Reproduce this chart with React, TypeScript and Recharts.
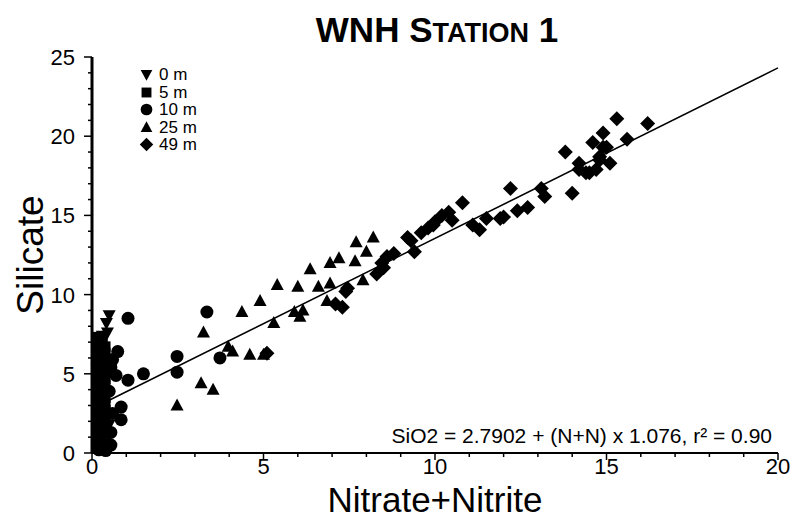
import { ReferenceLine, Scatter, ScatterChart, XAxis, YAxis, Legend } from "recharts";

// values
const depth0 = [
  [0.5, 8.7], [0.42, 8.2], [0.45, 7.6], [0.3, 7.4], [0.2, 7.0], [0.3, 6.0], [0.15, 5.3], [0.3, 4.5],
  [0.2, 3.8], [0.3, 2.9], [0.2, 2.1], [0.3, 1.3], [0.2, 0.6], [0.45, 5.0], [0.5, 1.8],
];
const depth5 = [
  [0.18, 0.3], [0.38, 0.7], [0.18, 1.1], [0.38, 1.5], [0.18, 1.9], [0.38, 2.3], [0.18, 2.7], [0.38, 3.1],
  [0.18, 3.5], [0.38, 3.9], [0.18, 4.3], [0.38, 4.7], [0.18, 5.1], [0.38, 5.5], [0.18, 5.9], [0.38, 6.3],
  [0.18, 6.7], [0.3, 7.1], [0.15, 7.3],
  [0.38, 0.3], [0.18, 0.7], [0.38, 1.1], [0.18, 1.5], [0.38, 1.9], [0.18, 2.3], [0.38, 2.7], [0.18, 3.1],
  [0.38, 3.5], [0.18, 3.9], [0.38, 4.3], [0.18, 4.7], [0.38, 5.1], [0.18, 5.5], [0.38, 5.9], [0.18, 6.3],
  [0.38, 6.7],
];
const depth10 = [
  [1.05, 8.5], [0.75, 6.4], [0.6, 5.9], [1.5, 5.0], [1.05, 4.6], [0.7, 4.9], [0.55, 5.4], [0.5, 3.9],
  [0.85, 2.9], [0.85, 2.1], [0.6, 2.5], [0.55, 1.3], [0.55, 0.5], [0.4, 0.15], [2.48, 6.1], [2.48, 5.1],
  [3.35, 8.9], [3.73, 6.0], [0.2, 0.2],
];
const depth25 = [
  [2.48, 3.0], [3.18, 4.4], [3.53, 4.0], [3.25, 7.6], [4.37, 8.9], [4.9, 9.6], [3.97, 6.7], [4.1, 6.4],
  [4.6, 6.2], [5.0, 6.2], [5.4, 10.6], [6.0, 10.5], [6.36, 11.6], [6.6, 10.5], [6.94, 12.0], [6.94, 10.7],
  [7.2, 12.3], [7.67, 12.1], [7.7, 13.3], [8.2, 13.6], [8.0, 12.7], [7.9, 10.9], [6.06, 8.6], [5.3, 8.2],
  [6.85, 9.6], [5.9, 8.9], [6.15, 9.0],
];
const depth49 = [
  [5.1, 6.3], [7.1, 9.4], [7.3, 9.2], [7.4, 10.2], [7.45, 10.4], [8.3, 11.3], [8.45, 12.0], [8.5, 11.7],
  [8.6, 12.4], [8.8, 12.6], [9.2, 13.6], [9.3, 13.4], [9.4, 12.7], [9.6, 13.9], [9.8, 14.2], [9.95, 14.4],
  [10.0, 14.6], [10.2, 15.0], [10.4, 15.2], [10.5, 14.7], [10.8, 15.8], [11.1, 14.4], [11.3, 14.1],
  [11.5, 14.8], [11.9, 14.8], [12.0, 14.9], [12.2, 16.7], [12.4, 15.3], [12.7, 15.5], [13.1, 16.7],
  [13.2, 16.2], [14.0, 16.4], [13.8, 19.0], [14.2, 18.3], [14.2, 17.9], [14.4, 17.7], [14.5, 17.7],
  [14.6, 19.6], [14.7, 17.9], [14.8, 18.5], [14.8, 18.7], [14.9, 19.3], [14.9, 20.2], [15.0, 19.3],
  [15.1, 18.3], [15.3, 21.1], [15.6, 19.8], [16.2, 20.8],
];

// regression printed on the figure
const intercept = 2.7902;
const slope = 1.076;
const fitFrom = 0.5;
const fitTo = 20;

const xTicks = Array.from({ length: 21 }, (_, i) => i);
const yTicks = Array.from({ length: 26 }, (_, i) => i);

const toPts = (arr: number[][]) => arr.map(([x, y]) => ({ x, y }));

const FONT = "'Liberation Sans', Arial, Helvetica, sans-serif";

const marker = (kind: string, cx: number, cy: number, s = 1) => {
  if (kind === "down")
    return <polygon points={`${cx - 6.5 * s},${cy - 5 * s} ${cx + 6.5 * s},${cy - 5 * s} ${cx},${cy + 7 * s}`} fill="#000" />;
  if (kind === "square")
    return <rect x={cx - 5.5 * s} y={cy - 5.5 * s} width={11 * s} height={11 * s} fill="#000" />;
  if (kind === "circle") return <circle cx={cx} cy={cy} r={6.5 * s} fill="#000" />;
  if (kind === "up")
    return <polygon points={`${cx - 6.5 * s},${cy + 5 * s} ${cx + 6.5 * s},${cy + 5 * s} ${cx},${cy - 7 * s}`} fill="#000" />;
  return <polygon points={`${cx},${cy - 7.5 * s} ${cx + 7.5 * s},${cy} ${cx},${cy + 7.5 * s} ${cx - 7.5 * s},${cy}`} fill="#000" />;
};

const series = [
  { name: "0 m", kind: "down", data: depth0 },
  { name: "5 m", kind: "square", data: depth5 },
  { name: "10 m", kind: "circle", data: depth10 },
  { name: "25 m", kind: "up", data: depth25 },
  { name: "49 m", kind: "diamond", data: depth49 },
];

const BottomTick = (p: any) => {
  const major = p.payload.value % 5 === 0;
  return (
    <g>
      <line x1={p.x} x2={p.x} y1={p.y} y2={p.y + (major ? 7 : 4)} stroke="#000" strokeWidth={1.5} />
      {major && (
        <text x={p.x} y={p.y + 21} textAnchor="middle" fontSize={22} fontFamily={FONT}>
          {p.payload.value}
        </text>
      )}
    </g>
  );
};
const TopTick = (p: any) => {
  const major = p.payload.value % 5 === 0;
  return <line x1={p.x} x2={p.x} y1={p.y} y2={p.y - (major ? 7 : 4)} stroke="#000" strokeWidth={1.5} />;
};
const LeftTick = (p: any) => {
  const major = p.payload.value % 5 === 0;
  return (
    <g>
      <line x1={p.x} x2={p.x - (major ? 8 : 4)} y1={p.y} y2={p.y} stroke="#000" strokeWidth={1.5} />
      {major && (
        <text x={p.x - 17} y={p.y + 8} textAnchor="end" fontSize={22} fontFamily={FONT}>
          {p.payload.value}
        </text>
      )}
    </g>
  );
};
const RightTick = (p: any) => {
  const major = p.payload.value % 5 === 0;
  return <line x1={p.x} x2={p.x + (major ? 8 : 4)} y1={p.y} y2={p.y} stroke="#000" strokeWidth={1.5} />;
};

const LegendBox = () => (
  <div style={{ fontFamily: FONT, fontSize: 17, lineHeight: "17.5px" }}>
    {series.map((s) => (
      <div key={s.name} style={{ display: "flex", alignItems: "center", height: 17.5 }}>
        <svg width={17} height={17} style={{ marginRight: 4 }}>
          {marker(s.kind, 8.5, 8.5, 0.9)}
        </svg>
        <span>{s.name}</span>
      </div>
    ))}
  </div>
);

const axisLine = { stroke: "#000", strokeWidth: 2 };

export default function App() {
  return (
    <div style={{ position: "absolute", left: 0, top: 0, width: 796, height: 521, background: "#fff" }}>
      <ScatterChart width={796} height={521} margin={{ top: 57, right: 18, bottom: 0, left: 0 }}>
        <XAxis
          type="number"
          dataKey="x"
          domain={[0, 20]}
          ticks={xTicks}
          interval={0}
          height={68}
          tickSize={0}
          tickMargin={0}
          tickLine={false}
          tick={<BottomTick />}
          axisLine={axisLine}
          label={{ value: "Nitrate+Nitrite", position: "insideBottom", offset: 9, fontSize: 35, fill: "#000", fontFamily: FONT }}
        />
        <XAxis
          xAxisId="top"
          orientation="top"
          type="number"
          domain={[0, 20]}
          ticks={xTicks}
          interval={0}
          height={0}
          tickSize={0}
          tickMargin={0}
          tickLine={false}
          tick={<TopTick />}
          axisLine={axisLine}
        />
        <YAxis
          type="number"
          dataKey="y"
          domain={[0, 25]}
          ticks={yTicks}
          interval={0}
          width={92}
          tickSize={0}
          tickMargin={0}
          tickLine={false}
          tick={<LeftTick />}
          axisLine={{ stroke: "#000", strokeWidth: 3 }}
          label={{ value: "Silicate", angle: -90, position: "insideLeft", offset: 30, fontSize: 37, fill: "#000", fontFamily: FONT, style: { textAnchor: "middle" } }}
        />
        <YAxis
          yAxisId="right"
          orientation="right"
          type="number"
          domain={[0, 25]}
          ticks={yTicks}
          interval={0}
          width={0}
          tickSize={0}
          tickMargin={0}
          tickLine={false}
          tick={<RightTick />}
          axisLine={axisLine}
        />
        <Legend
          layout="vertical"
          align="center"
          verticalAlign="middle"
          wrapperStyle={{ left: 138, top: 66 }}
          content={<LegendBox />}
        />
        <ReferenceLine
          segment={[
            { x: fitFrom, y: intercept + slope * fitFrom },
            { x: fitTo, y: intercept + slope * fitTo },
          ]}
          stroke="#000"
          strokeWidth={1.5}
        />
        {series.map((s) => (
          <Scatter
            key={s.name}
            name={s.name}
            data={toPts(s.data)}
            isAnimationActive={false}
            shape={(p: any) => marker(s.kind, p.cx, p.cy)}
          />
        ))}
      </ScatterChart>
      <svg width={796} height={521} style={{ position: "absolute", left: 0, top: 0, pointerEvents: "none" }}>
        <text x={437} y={42} textAnchor="middle" fontFamily={FONT} fontWeight="bold" fontSize={35}>
          WNH S<tspan fontSize={27}>TATION</tspan> 1
        </text>
        <text x={772} y={443} textAnchor="end" fontFamily={FONT} fontSize={21}>
          SiO2 = 2.7902 + (N+N) x 1.076, r² = 0.90
        </text>
      </svg>
    </div>
  );
}
